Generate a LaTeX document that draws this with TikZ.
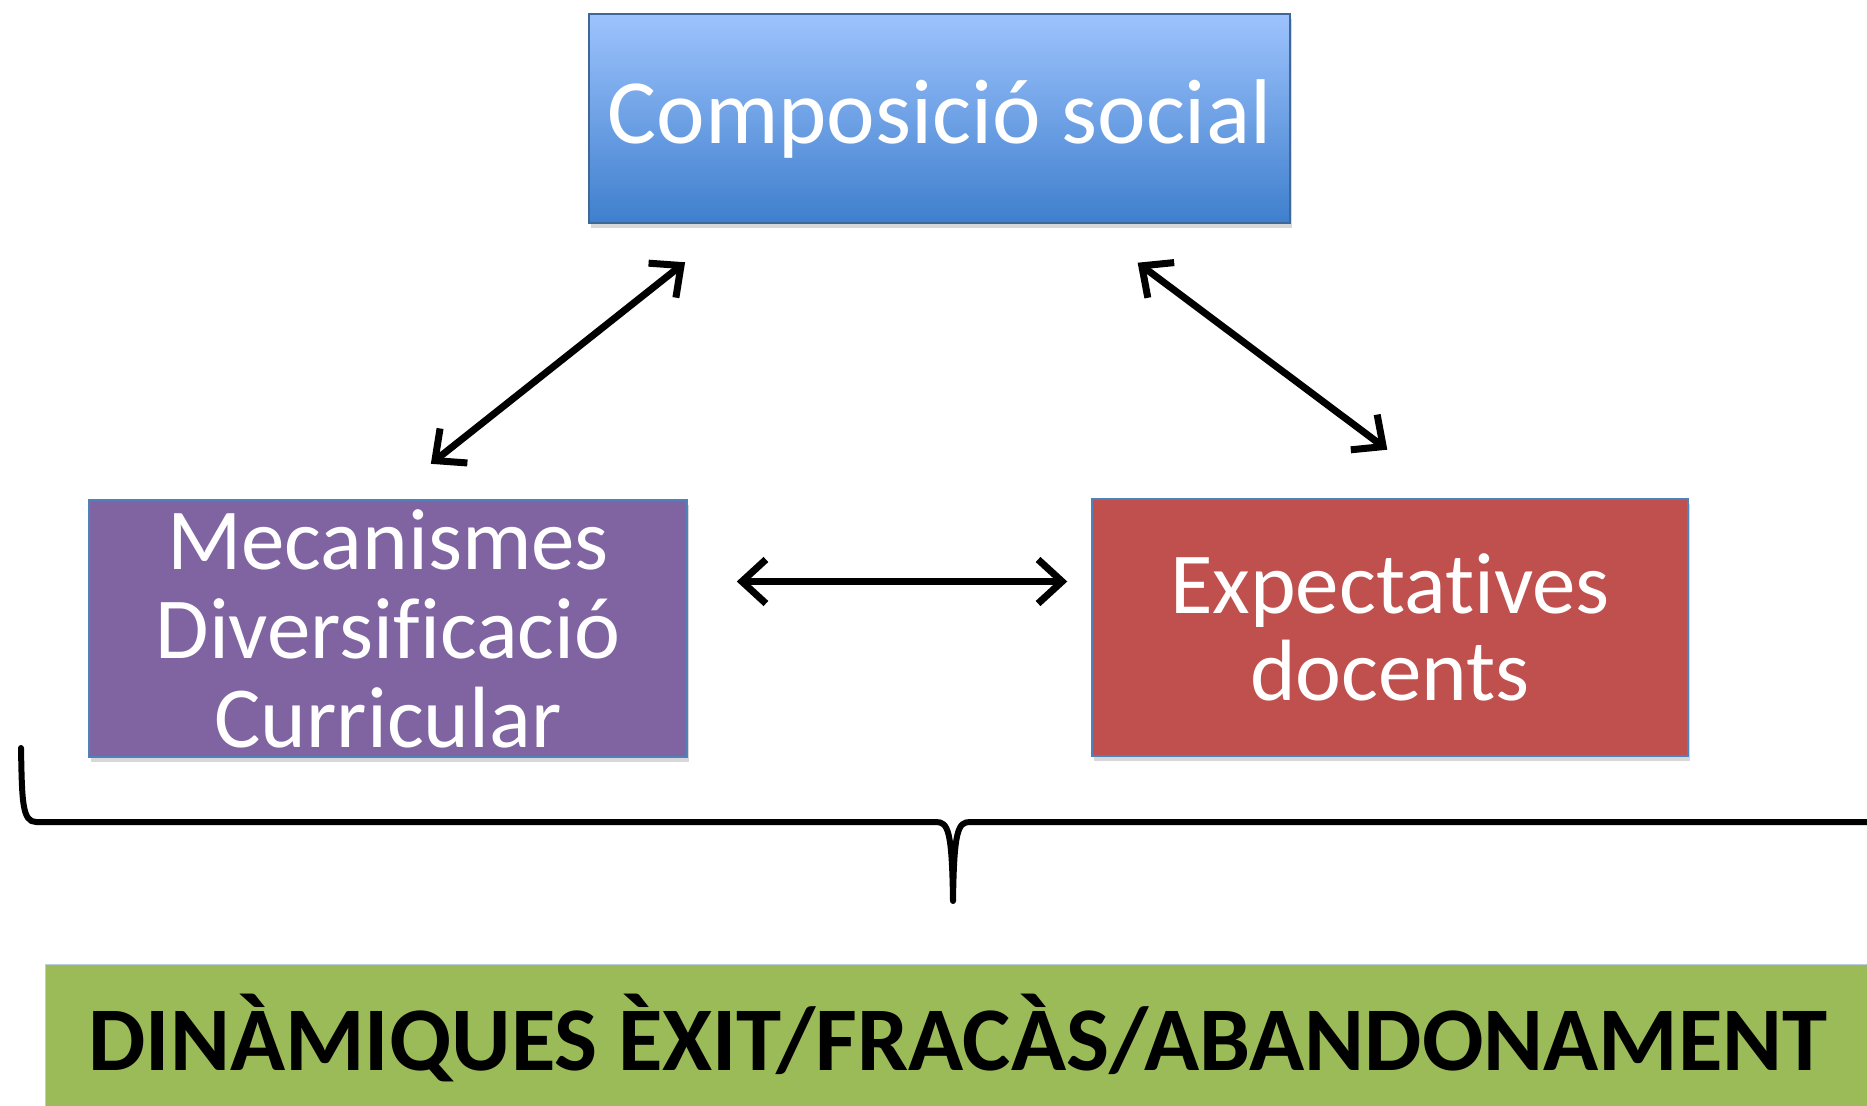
\documentclass[tikz,border=0pt]{standalone}
\usepackage{fontspec}
\setmainfont{Carlito}[Ligatures={NoCommon}]
\usetikzlibrary{arrows.meta,shadows,calc}
\definecolor{boxborder}{HTML}{4F81BD}
\definecolor{topA}{HTML}{9DC3FD}
\definecolor{topB}{HTML}{3F7FCD}
\definecolor{purp}{HTML}{8064A2}
\definecolor{redb}{HTML}{C0504D}
\definecolor{greenb}{HTML}{9BBB59}
\tikzset{
  card/.style={rectangle, draw=boxborder, line width=1.5pt, text=white, align=center, inner sep=0pt,
    drop shadow={shadow xshift=2pt, shadow yshift=-5pt, opacity=0.3, fill=black!50}},
  biarrow/.style={line width=7pt, {Straight Barb[length=24pt,width=44pt,line width=7pt]}-{Straight Barb[length=24pt,width=44pt,line width=7pt]}},
  bracepath/.style={line width=6pt, line cap=round, line join=round}
}
\begin{document}
\begin{tikzpicture}[x=1pt,y=-1pt]
\useasboundingbox (0,0) rectangle (1867,1105);
\fill[white] (0,0) rectangle (1867,1105);
% top box
\node[card, draw=boxborder!80!black, top color=topA, bottom color=topB, minimum width=701pt, minimum height=209pt,
  font=\fontsize{92}{96}\selectfont] (top) at (939.5,118.5) {Composició social};
% left box
\node[card, fill=purp, minimum width=598pt, minimum height=257pt,
  font=\fontsize{87}{89}\selectfont] (mec) at (388,628.5) {Mecanismes\\Diversificació\\Curricular};
% right box
\node[card, fill=redb, minimum width=596pt, minimum height=257pt,
  font=\fontsize{87}{87}\selectfont] (exp) at (1390,627.5) {Expectatives\\docents};
% green box
\node[rectangle, fill=greenb, draw=boxborder!40, line width=1pt, minimum width=1826pt, minimum height=148pt, inner sep=0pt,
  font=\fontsize{91}{91}\selectfont\bfseries, text=black] (dyn) at (958,1038) {DINÀMIQUES ÈXIT/FRACÀS/ABANDONAMENT};
% arrows
\draw[biarrow, shorten <=62pt, shorten >=57pt]
  ($(top.south west)!0.207!(top.south east)$) -- ($(mec.north west)!0.497!(mec.north east)$);
\draw[biarrow, shorten <=65pt, shorten >=81pt]
  ($(top.south west)!0.708!(top.south east)$) -- ($(exp.north west)!0.604!(exp.north east)$);
\draw[biarrow, shorten <=49pt, shorten >=24pt]
  ([yshift=47pt]mec.east) -- ([yshift=47pt]mec.east -| exp.west);
% brace
\draw[bracepath] (21,748) .. controls (22,800) and (22,822) .. (36,822) -- (936,822)
  .. controls (948,822) and (952,830) .. (953,901)
  .. controls (954,830) and (958,822) .. (970,822) -- (1880,822);
\end{tikzpicture}
\end{document}
